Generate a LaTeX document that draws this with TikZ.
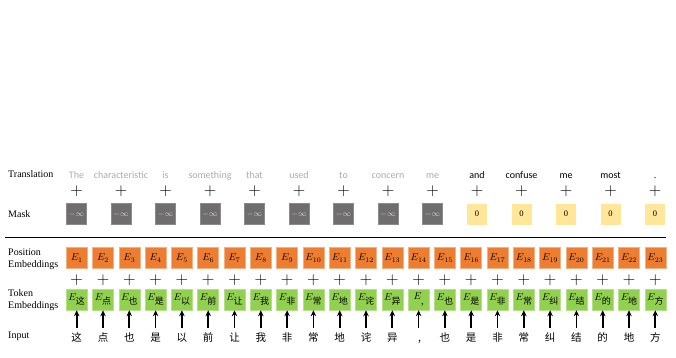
\documentclass[tikz,border=0pt]{standalone}
\usepackage{fontspec}
\setmainfont{Liberation Serif}
\newfontfamily\cjkfont{Noto Sans CJK SC}
\newfontfamily\calfont{Carlito}
\usetikzlibrary{arrows.meta}
\definecolor{posorange}{HTML}{ED7D31}
\definecolor{posedge}{HTML}{F4B183}
\definecolor{tokgreen}{HTML}{92D050}
\definecolor{tokedge}{HTML}{B5E08A}
\definecolor{maskgrey}{HTML}{6F6D6D}
\definecolor{maskyellow}{HTML}{FFE699}
\definecolor{lightword}{HTML}{ABABAB}
\begin{document}
\begin{tikzpicture}[x=1pt,y=-1pt,
  rowlabel/.style={anchor=west,align=left,inner sep=0pt,font=\fontsize{10}{12}\selectfont},
  word/.style={inner sep=0pt,anchor=base,font=\calfont\fontsize{10}{11}\selectfont},
  plussign/.style={inner sep=0pt,font=\fontsize{16}{16}\selectfont},
  minusbox/.style={minimum width=20pt,minimum height=21pt,inner sep=0pt,fill=maskgrey,draw=maskgrey!80!white,line width=0.4pt,text=white!85!black,font=\fontsize{8}{8}\selectfont},
  zerobox/.style={minimum width=20pt,minimum height=21pt,inner sep=0pt,fill=maskyellow,font=\fontsize{8.5}{9}\selectfont},
  posbox/.style={minimum width=21pt,minimum height=21pt,inner sep=0pt,fill=posorange,draw=posedge,line width=0.5pt,font=\fontsize{10}{10}\selectfont},
  tokbox/.style={minimum width=21pt,minimum height=21pt,inner sep=0pt,fill=tokgreen,draw=tokedge,line width=0.5pt,font=\fontsize{10}{10}\selectfont},
  inchar/.style={inner sep=0pt,anchor=base,font=\cjkfont\fontsize{10.5}{11}\selectfont},
  uparrow/.style={line width=1.7pt,-{Stealth[length=6pt,width=5.5pt]}}
]
\useasboundingbox (0,0) rectangle (676,358);

% row labels
\node[rowlabel] (lTrans) at (8,174.5) {Translation};
\node[rowlabel] (lMask) at (8,214) {Mask};
\node[rowlabel] (lPos) at (8,259.5) {Position\\Embeddings};
\node[rowlabel] (lTok) at (8,300) {Token\\Embeddings};
\node[rowlabel] (lIn) at (8,336) {Input};

% upper part
\foreach \w [count=\i] in {The,characteristic,is,something,that,used,to,concern,me}{
  \pgfmathsetmacro\xx{76.5+44.5*(\i-1)}
  \node[word,text=lightword] (t\i) at (\xx,178.5) {\w};
  \node[plussign] (q\i) at (\xx,191.5) {$+$};
  \node[minusbox] (m\i) at (\xx,214) {$-\infty$};
}
\foreach \w [count=\j] in {and,confuse,me,most,.}{
  \pgfmathtruncatemacro\i{\j+9}
  \pgfmathsetmacro\xx{76.5+44.5*(\i-1)}
  \node[word,text=black] (t\i) at (\xx,178.5) {\w};
  \node[plussign] (q\i) at (\xx,191.5) {$+$};
  \node[zerobox] (m\i) at (\xx,214) {0};
}

% separator
\coordinate (sepL) at (5,237.3);
\coordinate (sepR) at (666,237.3);
\draw[line width=1.3pt] (sepL) -- (sepR);

% lower part
\foreach \c/\d [count=\i] in {这/这,点/点,也/也,是/是,以/以,前/前,让/让,我/我,非/非,常/常,地/地,诧/诧,异/异,{,}/{\,,},也/也,是/是,非/非,常/常,纠/纠,结/结,的/的,地/地,方/方}{
  \pgfmathsetmacro\xx{76.7+26.3*(\i-1)}
  \node[posbox] (p\i) at (\xx,258) {$E_{\i}$};
  \node[plussign] (r\i) at (\xx,280) {$+$};
  \node[tokbox] (k\i) at (\xx,299.5) {\raisebox{1.5pt}{$E$}\hspace{-0.5pt}\raisebox{-3pt}{\cjkfont\fontsize{9}{9}\selectfont \c}};
  \node[inchar] (in\i) at (\xx,341) {\d};
  \coordinate (a\i) at (\xx,327.5);
  \draw[uparrow] (a\i) -- (k\i.south);
}
\end{tikzpicture}
\end{document}
